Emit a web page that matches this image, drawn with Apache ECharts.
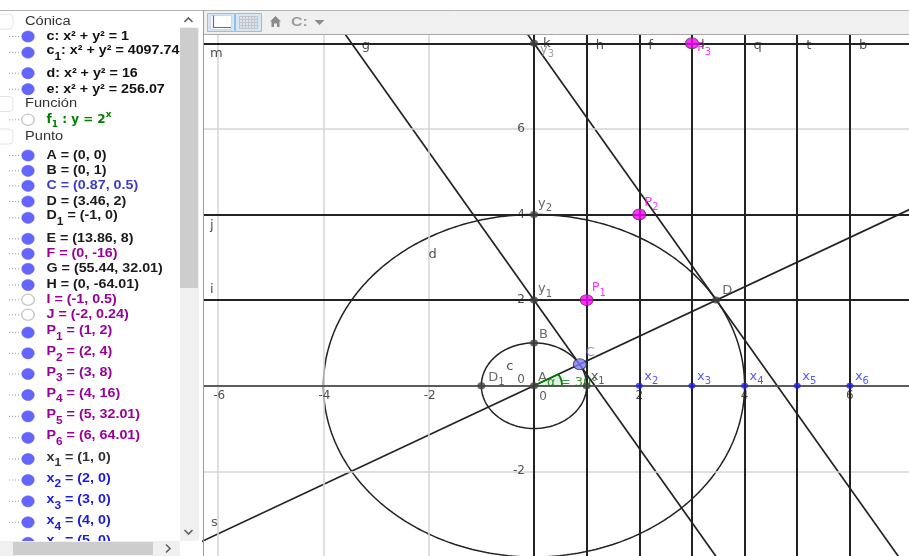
<!DOCTYPE html>
<html>
<head>
<meta charset="utf-8">
<script src="https://cdn.jsdelivr.net/npm/echarts@6.0.0/dist/echarts.min.js"></script>
<style>
html,body{margin:0;padding:0;background:#ffffff;}
#chart{width:909px;height:556px;}
</style>
</head>
<body>
<div id="chart"></div>
<script>
// ================= DATA =================
const conicNames = ['c', 'c_1', 'd', 'e'];
const conicRadiusSq = [1, 4097.74, 16, 256.07];

const panelHeaders = ['Cónica', 'Función', 'Punto'];

const pointNames = ['A','B','C','D','D_1','E','F','G','H','I','J','P_1','P_2','P_3','P_4','P_5','P_6','x_1','x_2','x_3','x_4','x_5','x_6','y_1','y_2','y_3'];
const pointX = [0, 0, 0.87, 3.46, -1, 13.86, 0, 55.44, 0, -1, -2, 1, 2, 3, 4, 5, 6, 1, 2, 3, 4, 5, 6, 0, 0, 0];
const pointY = [0, 1, 0.5, 2, 0, 8, -16, 32.01, -64.01, 0.5, 0.24, 2, 4, 8, 16, 32.01, 64.01, 0, 0, 0, 0, 0, 0, 2, 4, 8];
const pointShown = [1,1,1,1,1,1,1,1,1,0,0,1,1,1,1,1,1,1,1,1,1,1,1,1,1,1];
const pointKind = ['dep','dep','free','dep','dep','dep','mag','dep','dep','mag','mag','mag','mag','mag','mag','mag','mag','dep','blue','blue','blue','blue','blue','dep','dep','dep'];

const verticalLineX = [0, 1, 2, 3, 4, 5, 6];
const verticalLineNames = ['', 'h', 'f', 'l', 'q', 't', 'b'];
const horizontalLineY = [2, 4, 8];
const horizontalLineNames = ['i', 'j', 'm'];
const tangentSlope = [-1.732, -1.732, 0.577];
const tangentIntercept = [2, 8, 0];
const tangentNames = ['g', 'k', 's'];

const gridX = [-6, -4, -2, 0, 2, 4, 6];
const gridY = [-2, 0, 2, 4, 6, 8];
const xTickLabels = [-6, -4, -2, 2, 4, 6];
const yTickLabels = [-2, 2, 4, 6];
const angleDeg = [30];

// ================= VIEW / LAYOUT =================
const X_MIN = -6.287, X_MAX = 7.123, Y_MIN = -3.979, Y_MAX = 8.194;
const LINE = '#222222';
const GFONT = 'DejaVu Sans';
const PFONT = 'Liberation Sans, Arial, sans-serif';
const SX = 1.22;   // horizontal stretch of the screenshot (headers)
const SXP = 1.19;  // stretch for algebra rows

const rowY = [21.7,36.5,50.8,73.2,89.2,104,119.8,136.5,155.5,170.8,185.8,201.5,216,238.8,253.8,268.8,285,299.8,314.8,330.8,351.5,372.2,393.2,414.5,436,457.2,478.2,499.5,520.5,541];

const labelOffsets = {
  'A':[4,-8], 'B':[5,-8], 'C':[6,-12], 'D':[6,-9], 'D_1':[7,-8],
  'x_1':[4,-9], 'x_2':[5,-9], 'x_3':[5,-9], 'x_4':[5,-9], 'x_5':[5,-9], 'x_6':[5,-9],
  'y_1':[4,-11], 'y_2':[4,-11], 'y_3':[6,6],
  'P_1':[5,-12], 'P_2':[5,-12], 'P_3':[5,4]
};

const kindStyle = {
  dep:  {size:[8,7],  color:'#404040', border:'#404040', bw:0, label:'#444444', panel:'#1a1a1a'},
  free: {size:[13,11],color:'#7d7dff', border:'#333333', bw:1, label:'#7070ff', panel:'#3c3cc8'},
  mag:  {size:[13,11],color:'#ff00ff', border:'#444444', bw:1, label:'#ff00ff', panel:'#990099'},
  blue: {size:[7,6],  color:'#1f1fee', border:'#1f1fee', bw:0, label:'#2a2aff', panel:'#1a1ae6'}
};

function rn(name, base, sub) {
  const p = name.split('_');
  return '{' + base + '|' + p[0] + '}' + (p[1] ? '{' + sub + '|' + p[1] + '}' : '');
}

// ================= GRAPH SERIES =================
const series = [];

series.push({
  type: 'line', data: [], silent: true, z: 1,
  markLine: {
    silent: true, animation: false, symbol: ['none','none'], label: {show:false}, emphasis:{disabled:true},
    lineStyle: {color:'#d4d4d4', width:1.5, type:'solid'},
    data: gridX.map(v => ({xAxis:v})).concat(gridY.map(v => ({yAxis:v})))
  }
});
series.push({
  type: 'line', data: [], silent: true, z: 2,
  markLine: {
    silent: true, animation: false, symbol: ['none','none'], label: {show:false}, emphasis:{disabled:true},
    lineStyle: {color:'#303030', width:1.5, type:'solid'},
    data: [{yAxis:0}]
  }
});
series.push({
  type: 'line', data: [], silent: true, z: 3,
  markLine: {
    silent: true, animation: false, symbol: ['none','none'], label: {show:false}, emphasis:{disabled:true},
    lineStyle: {color:LINE, width:2, type:'solid'},
    data: verticalLineX.map(v => ({xAxis:v})).concat(horizontalLineY.map(v => ({yAxis:v})))
  }
});
tangentSlope.forEach((m, i) => {
  const b = tangentIntercept[i];
  series.push({
    type:'line', z:3, silent:true, showSymbol:false, symbol:'none', animation:false,
    lineStyle:{color:LINE, width:1.7},
    data:[[X_MIN - 1, m*(X_MIN - 1) + b], [X_MAX + 1, m*(X_MAX + 1) + b]]
  });
});
conicRadiusSq.forEach((r2) => {
  const r = Math.sqrt(r2);
  const pts = [];
  for (let a = 0; a <= 720; a++) {
    const t = a * Math.PI / 360;
    pts.push([r*Math.cos(t), r*Math.sin(t)]);
  }
  series.push({
    type:'line', z:3, silent:true, showSymbol:false, symbol:'none', animation:false,
    lineStyle:{color:LINE, width:1.5}, data:pts
  });
});
// angle alpha at A
series.push({
  type:'custom', z:4, silent:true, animation:false,
  data: angleDeg.map(d => [0, 0, d]),
  renderItem: function (params, api) {
    const p = api.coord([api.value(0), api.value(1)]);
    const d = api.value(2);
    return {
      type:'sector', x:p[0], y:p[1], scaleX:SX,
      shape:{cx:0, cy:0, r:23, r0:0, startAngle:-d*Math.PI/180, endAngle:0, clockwise:true},
      style:{fill:'rgba(0,128,0,0.12)', stroke:'#008000', lineWidth:1.5, strokeNoScale:true}
    };
  }
});

// points
const richG = {
  n:{fontFamily:GFONT, fontSize:13},
  s:{fontFamily:GFONT, fontSize:10, padding:[10,0,0,0]}
};
const pointData = [];
pointNames.forEach((n, i) => {
  if (!pointShown[i]) return;
  const k = kindStyle[pointKind[i]];
  const off = labelOffsets[n];
  let lblColor = k.label;
  if (n === 'y_3') lblColor = '#8a8a8a';
  if (n === 'x_1') lblColor = '#333333';
  pointData.push({
    value:[pointX[i], pointY[i]], name:n, symbolSize:k.size,
    itemStyle:{color:k.color, borderColor:k.border, borderWidth:k.bw},
    label: off ? {show:true, position:'inside', align:'left', verticalAlign:'middle', offset:off,
      color:lblColor, fontFamily:GFONT, fontSize:13, formatter: rn(n,'n','s'), rich:richG} : {show:false}
  });
});
series.push({type:'scatter', z:10, silent:true, animation:false, symbol:'circle', data:pointData});

// text labels (ticks, object names)
const textData = [];
function addText(pos, text, off, align, color, size) {
  textData.push({value:pos, symbolSize:0, label:{show:true, position:'inside', align:align, verticalAlign:'middle',
    offset:off, color:color, fontFamily:GFONT, fontSize:size || 12, formatter:text}});
}
xTickLabels.forEach(v => addText([v, 0], String(v), [v < 0 ? 1 : 0, 10.5], 'center', '#222'));
yTickLabels.forEach(v => addText([0, v], String(v), [-9, 0], 'right', '#222'));
addText([0, 0], '0', [-9, -6], 'right', '#333');
addText([0, 0], '0', [9, 11], 'center', '#333');
verticalLineX.forEach((v, i) => { if (verticalLineNames[i]) addText([v, Y_MAX], verticalLineNames[i], [9, 10.5], 'left', '#222', 13); });
horizontalLineY.forEach((v, i) => {
  const dy = {i:-10, j:11.5, m:10}[horizontalLineNames[i]];
  addText([X_MIN, v], horizontalLineNames[i], [7, dy], 'left', '#222', 13);
});
addText([(Y_MAX - tangentIntercept[0]) / tangentSlope[0], Y_MAX], tangentNames[0], [16, 10.5], 'left', '#222', 13);
addText([(Y_MAX - tangentIntercept[1]) / tangentSlope[1], Y_MAX], tangentNames[1], [15, 9], 'left', '#222', 13);
addText([X_MIN, tangentSlope[2]*X_MIN + tangentIntercept[2]], tangentNames[2], [8, -18.5], 'left', '#333', 13);
{
  const rd = Math.sqrt(conicRadiusSq[2]), rc = Math.sqrt(conicRadiusSq[0]);
  addText([rd*Math.cos(2*Math.PI/3), rd*Math.sin(2*Math.PI/3)], conicNames[2], [4, 17.5], 'center', '#222', 13);
  addText([rc*Math.cos(3*Math.PI/4), rc*Math.sin(3*Math.PI/4)], conicNames[0], [13, 11], 'center', '#222', 13);
}
textData.push({value:[0,0], symbolSize:0, label:{show:true, position:'inside', align:'left', verticalAlign:'middle',
  offset:[13,-3], color:'#008000', fontFamily:GFONT, fontSize:13, formatter:'α = ' + angleDeg[0] + '°'}});
series.push({type:'scatter', z:12, silent:true, animation:false, symbol:'circle', data:textData, itemStyle:{color:'rgba(0,0,0,0)'}});

// ================= ALGEBRA PANEL (graphic) =================
const richP = {
  b:{fontFamily:PFONT, fontSize:12, fontWeight:'bold'},
  bs:{fontFamily:PFONT, fontSize:10, fontWeight:'bold', padding:[13,0,0,0]},
  fm:{fontFamily:'DejaVu Sans', fontSize:12, fontWeight:'bold'},
  fs:{fontFamily:'DejaVu Sans', fontSize:9, fontWeight:'bold', padding:[10,0,0,0]},
  fsup:{fontFamily:'DejaVu Sans', fontSize:9, fontWeight:'bold', padding:[0,0,10,0]}
};
const rows = [];
rows.push({header:panelHeaders[0]});
conicNames.forEach((n, i) => rows.push({text: rn(n,'b','bs') + '{b|: x² + y² = ' + conicRadiusSq[i] + '}', color:'#111', shown:true, sub:n.indexOf('_') > 0}));
rows.push({header:panelHeaders[1]});
rows.push({text:'{fm|f}{fs|1}{fm| : y = 2}{fsup|x}', color:'#008000', shown:false, sub:false, sx:1.0});
rows.push({header:panelHeaders[2]});
pointNames.forEach((n, i) => {
  let c = kindStyle[pointKind[i]].panel;
  if (n === 'x_1') c = '#333333';
  rows.push({text: rn(n,'b','bs') + '{b| = (' + pointX[i] + ', ' + pointY[i] + ')}', color:c, shown:!!pointShown[i], sub:n.indexOf('_') > 0});
});

const graphics = [];
graphics.push({type:'rect', shape:{x:0, y:11, width:200, height:545}, style:{fill:'#ffffff'}, z:0});
rows.forEach((r, i) => {
  if (i >= rowY.length) return;
  const y = rowY[i];
  if (r.header) {
    graphics.push({type:'rect', shape:{x:-8, y:y-7.5, width:21, height:15, r:4}, style:{fill:'none', stroke:'#e4e4e4', lineWidth:1}, z:1});
    graphics.push({type:'text', x:25, y:y, scaleX:SX, style:{text:r.header, fill:'#333333', font:'12px ' + PFONT, align:'left', verticalAlign:'middle', textAlign:'left', textVerticalAlign:'middle'}, z:2});
  } else {
    const by = y + (r.sub ? 1.8 : 0);
    graphics.push({type:'line', shape:{x1:9, y1:by, x2:21, y2:by}, style:{stroke:'#9a9a9a', lineWidth:1, lineDash:[1,2]}, z:1});
    graphics.push({type:'circle', x:28, y:by, scaleX:1.12, shape:{cx:0, cy:0, r:5.6},
      style: r.shown ? {fill:'#6464ff', stroke:'#5a5af0', lineWidth:0.5} : {fill:'#ffffff', stroke:'#c8c8c8', lineWidth:1.3, strokeNoScale:true}, z:2});
    graphics.push({type:'text', x:46.5, y:y, scaleX:r.sx || SXP, style:{text:r.text, rich:richP, fill:r.color, font:'bold 12px ' + PFONT,
      align:'left', verticalAlign:'middle', textAlign:'left', textVerticalAlign:'middle'}, z:2});
  }
});
// scrollbars
graphics.push({type:'rect', shape:{x:180, y:11, width:19, height:530}, style:{fill:'#f0f0f0'}, z:5});
graphics.push({type:'rect', shape:{x:180, y:11, width:19, height:16}, style:{fill:'#ffffff'}, z:5});
graphics.push({type:'rect', shape:{x:180, y:28, width:18, height:260}, style:{fill:'#cdcdcd'}, z:6});
graphics.push({type:'polyline', shape:{points:[[184.5,22],[188.5,18],[192.5,22]]}, style:{stroke:'#606060', lineWidth:1.6, fill:'none'}, z:7});
graphics.push({type:'polyline', shape:{points:[[184.5,530],[188.5,534],[192.5,530]]}, style:{stroke:'#606060', lineWidth:1.6, fill:'none'}, z:7});
graphics.push({type:'rect', shape:{x:0, y:541, width:200, height:15}, style:{fill:'#f0f0f0'}, z:5});
graphics.push({type:'rect', shape:{x:180, y:541, width:20, height:15}, style:{fill:'#ffffff'}, z:5});
graphics.push({type:'rect', shape:{x:13, y:542, width:140, height:13}, style:{fill:'#cdcdcd'}, z:6});
graphics.push({type:'polyline', shape:{points:[[166,544.5],[170,548.5],[166,552.5]]}, style:{stroke:'#606060', lineWidth:1.6, fill:'none'}, z:7});
// window borders
graphics.push({type:'line', shape:{x1:0, y1:10.5, x2:909, y2:10.5}, style:{stroke:'#b4b4b4', lineWidth:1}, z:8});
graphics.push({type:'line', shape:{x1:203.5, y1:10, x2:203.5, y2:556}, style:{stroke:'#9a9a9a', lineWidth:1}, z:8});
// toolbar
graphics.push({type:'rect', shape:{x:204, y:11, width:705, height:23}, style:{fill:'#f0f0f0'}, z:5});
graphics.push({type:'line', shape:{x1:204, y1:34.5, x2:909, y2:34.5}, style:{stroke:'#a8a8a8', lineWidth:1}, z:6});
graphics.push({type:'rect', shape:{x:207.5, y:13.5, width:27, height:18}, style:{fill:'#d5e6f5', stroke:'#8ec2ea', lineWidth:1}, z:6});
graphics.push({type:'rect', shape:{x:210.5, y:15.5, width:21, height:14}, style:{fill:'#ffffff', stroke:'#c8d8e8', lineWidth:1}, z:7});
graphics.push({type:'polyline', shape:{points:[[213.5,15.5],[213.5,27.5],[231,27.5]]}, style:{stroke:'#6e6e6e', lineWidth:1.2, fill:'none'}, z:8});
graphics.push({type:'rect', shape:{x:235.5, y:13.5, width:26, height:18}, style:{fill:'#d5e6f5', stroke:'#8ec2ea', lineWidth:1}, z:6});
for (let gx = 239; gx <= 258; gx += 3) graphics.push({type:'line', shape:{x1:gx+0.5, y1:16, x2:gx+0.5, y2:29}, style:{stroke:'#c4c4c4', lineWidth:1}, z:7});
for (let gy = 16; gy <= 29; gy += 3) graphics.push({type:'line', shape:{x1:239, y1:gy+0.5, x2:258, y2:gy+0.5}, style:{stroke:'#c4c4c4', lineWidth:1}, z:7});
graphics.push({type:'polygon', shape:{points:[[275.5,16],[270,21.5],[271.5,21.5],[271.5,27],[274,27],[274,23.5],[277,23.5],[277,27],[279.5,27],[279.5,21.5],[281,21.5]]}, style:{fill:'#8a8a8a'}, z:7});
graphics.push({type:'text', x:291, y:22.5, scaleX:SX, style:{text:'C:', fill:'#9a9a9a', font:'bold 13px ' + PFONT, align:'left', verticalAlign:'middle', textAlign:'left', textVerticalAlign:'middle'}, z:7});
graphics.push({type:'polygon', shape:{points:[[314.5,20],[324.5,20],[319.5,25]]}, style:{fill:'#8a8a8a'}, z:7});

// ================= CHART =================
const chart = echarts.init(document.getElementById('chart'), null, {renderer:'canvas', width:909, height:556});
chart.setOption({
  animation:false,
  backgroundColor:'#ffffff',
  grid:{left:203, top:35, right:0, bottom:0, containLabel:false},
  xAxis:{type:'value', min:X_MIN, max:X_MAX, show:false, splitLine:{show:false}},
  yAxis:{type:'value', min:Y_MIN, max:Y_MAX, show:false, splitLine:{show:false}},
  series:series,
  graphic:{elements:graphics}
});
</script>
</body>
</html>
